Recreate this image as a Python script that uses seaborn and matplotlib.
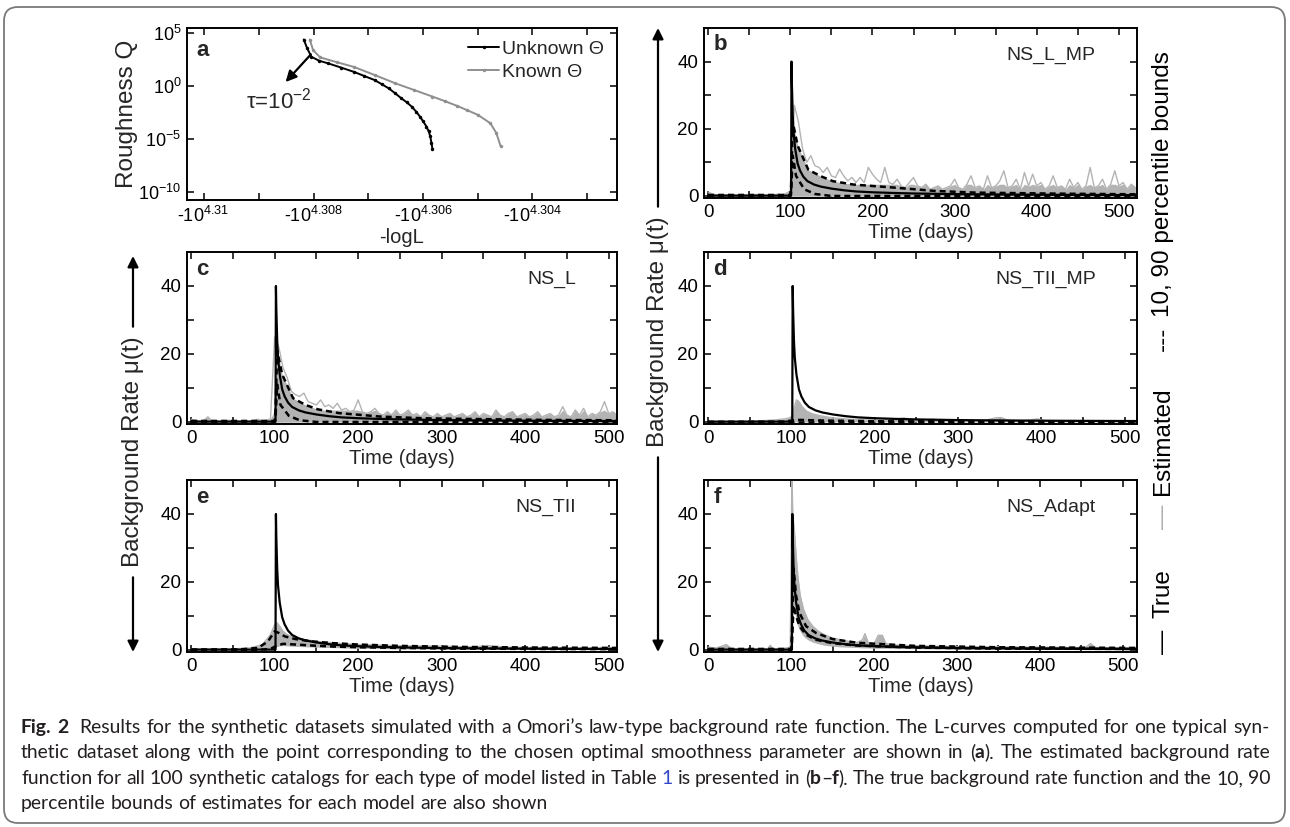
import matplotlib
matplotlib.use("Agg")
import matplotlib.pyplot as plt
from matplotlib.patches import FancyBboxPatch, FancyArrowPatch
from matplotlib.transforms import IdentityTransform
from matplotlib.ticker import FixedLocator, NullLocator
from matplotlib import font_manager
import seaborn as sns

W, H = 1290, 827

# ---------------- panel a: L-curves (x = -10**exp, y = 10**logq)
unknown_exp = [4.30818, 4.30812, 4.30804, 4.30790, 4.30773, 4.30750, 4.30727, 4.30708, 4.30689,
               4.30676, 4.30663, 4.30651, 4.30640, 4.30630, 4.30621, 4.30613, 4.30606, 4.30600,
               4.30594, 4.30590, 4.30587, 4.30585, 4.30583]
unknown_logq = [4.41, 3.60, 2.77, 2.40, 2.14, 1.75, 1.35, 0.96, 0.57, 0.18, -0.22, -0.70, -1.16,
                -1.55, -1.95, -2.42, -2.89, -3.36, -3.84, -4.30, -4.78, -5.38, -5.97]
known_exp = [4.30807, 4.30801, 4.30788, 4.30757, 4.30727, 4.30689, 4.30651, 4.30617, 4.30583,
             4.30560, 4.30538, 4.30519, 4.30500, 4.30477, 4.30466, 4.30458]
known_logq = [4.41, 3.40, 2.71, 2.25, 1.82, 1.05, 0.26, -0.37, -1.00, -1.44, -1.88, -2.30,
              -2.73, -3.52, -4.46, -5.72]

# ---------------- true background rate (same in b-f)
true_t = [0, 50, 100, 101, 101.5, 102, 103, 104, 106, 109, 112, 116, 121, 129, 137, 150, 165,
          180, 200, 225, 250, 300, 350, 400, 450, 500, 525]
true_mu = [0.1, 0.1, 0.1, 0.1, 40, 33, 24, 19, 14, 9.6, 7.5, 5.7, 4.4, 3.4, 2.8, 2.2, 1.7,
           1.35, 1.1, 0.9, 0.75, 0.55, 0.45, 0.37, 0.32, 0.28, 0.26]

# ---------------- panel b: NS_L_MP
b_gray_t = list(range(0, 525, 5))
b_gray = [1.2, 0.6, 0.3, 0.4, 0.2, 0.5, 0.3, 0.2, 0.4, 0.3, 0.2, 0.3, 0.5, 0.3, 0.2, 0.4, 0.3, 0.6, 0.3, 0.8,
          1.5, 27, 22, 14, 10, 12, 9, 8.5, 7, 8.5, 6, 5.5, 8, 6, 4.5, 5.5, 4, 5.5, 4, 8.5,
          6.5, 5, 4, 8.5, 4, 3.5, 5, 3, 2.5, 4, 5.5, 3, 2.5, 3.5, 2, 2.5, 3, 2, 2.5, 3,
          5, 2.5, 2, 3.5, 6, 2.5, 3, 2, 6, 2.5, 3, 4.5, 7.5, 2.5, 3, 5, 2, 7, 3, 6.5,
          3, 4, 2, 3, 6, 2.5, 3, 2, 5, 2.5, 4, 2, 3, 8.5, 2.5, 3, 5, 2, 3.5, 7.5,
          3, 4, 2, 3.5, 2.5]
b_p90_t = [0, 100, 101, 103, 109, 122, 137, 152, 177, 226, 276, 326, 425, 522]
b_p90 = [0.3, 0.3, 3, 22, 15, 7.8, 5.9, 4.4, 3.4, 2.5, 1.5, 1.0, 0.7, 0.5]
b_p10_t = [0, 100, 101, 103, 107, 117, 130, 150, 522]
b_p10 = [0, 0, 1, 12, 6, 2, 0.6, 0, 0]

# ---------------- panel c: NS_L
c_gray_t = list(range(0, 525, 5))
c_gray = [0.8, 0.5, 0.3, 0.4, 1.5, 0.3, 0.2, 0.3, 0.2, 0.5, 0.3, 0.2, 0.3, 0.2, 0.3, 0.4, 0.8, 0.3, 0.5, 0.9,
          25, 22, 16, 13, 9, 8, 7.5, 8.5, 6, 5.5, 5, 6.5, 4.5, 5, 4, 5.5, 3.5, 4, 3, 3.5,
          6.5, 3, 2.5, 3, 4, 2.5, 2, 3, 2, 3.5, 2, 2.5, 3.5, 2, 2.5, 1.5, 3, 2, 1.5, 2.5,
          1.5, 2, 2.5, 1.5, 2, 2.5, 1.5, 2, 3, 1.5, 2.5, 2, 1.5, 3.5, 2, 1.5, 2.5, 3, 1.5, 2,
          2.5, 1.5, 2, 3, 1.5, 2, 2.5, 1.5, 2, 4.5, 2, 1.5, 3.5, 2, 4, 1.5, 2.5, 2, 3, 6,
          2.5, 3, 2, 2.5, 2]
c_p90_t = [0, 100, 101, 103, 109, 122, 137, 152, 177, 226, 276, 326, 425, 510]
c_p90 = [0.3, 0.3, 3, 21, 14, 7, 5, 3.7, 2.6, 1.6, 1.1, 0.9, 0.6, 0.5]
c_p10_t = [0, 100, 101, 103, 107, 117, 130, 150, 510]
c_p10 = [0, 0, 1, 11, 5, 1.8, 0.5, 0, 0]

# ---------------- panel d: NS_TII_MP
d_gray_t = [0, 40, 60, 80, 95, 100, 103, 106, 109, 113, 118, 125, 135, 150, 170, 190, 210, 225,
            235, 245, 260, 270, 280, 300, 330, 345, 352, 360, 380, 395, 405, 430, 470, 515]
d_gray = [0.05, 0.1, 0.3, 0.6, 1.0, 1.5, 4, 6.5, 6, 4.5, 3.2, 2.4, 1.8, 1.2, 0.8, 0.6, 0.5, 0.8,
          1.2, 0.7, 0.5, 0.8, 0.4, 0.3, 0.3, 1.2, 1.3, 0.5, 0.3, 0.9, 0.4, 0.3, 0.3, 0.3]
d_p90_t = [0, 90, 103, 110, 140, 200, 515]
d_p90 = [0.05, 0.1, 0.5, 0.6, 0.4, 0.2, 0.1]
d_p10_t = [0, 515]
d_p10 = [0, 0]

# ---------------- panel e: NS_TII
e_gray_t = [0, 50, 70, 85, 95, 100, 103, 106, 110, 115, 120, 130, 140, 155, 170, 185, 200, 220,
            240, 260, 300, 340, 355, 380, 420, 470, 510]
e_gray_hi = [0.3, 0.3, 0.6, 1.5, 4.5, 7.5, 8, 7, 5.5, 4.5, 4, 3.3, 2.9, 2.4, 2.1, 1.8, 1.6, 1.5,
             1.3, 1.2, 1.1, 0.9, 1.3, 0.8, 0.7, 0.6, 0.6]
e_gray_lo = [0, 0, 0, 0.2, 0.5, 0.8, 1, 1.2, 1.3, 1.2, 1.1, 1.0, 0.9, 0.8, 0.7, 0.6, 0.5, 0.4,
             0.35, 0.3, 0.25, 0.2, 0.2, 0.2, 0.15, 0.15, 0.15]
e_p90_t = [0, 60, 80, 92, 100, 105, 112, 125, 145, 170, 200, 250, 320, 420, 510]
e_p90 = [0.1, 0.2, 0.6, 2.5, 5.5, 5, 4, 3.2, 2.5, 2, 1.6, 1.2, 0.9, 0.7, 0.6]
e_p10_t = [0, 80, 95, 102, 110, 125, 145, 170, 200, 250, 320, 420, 510]
e_p10 = [0, 0.05, 0.3, 1.2, 1.8, 1.6, 1.3, 1.0, 0.8, 0.6, 0.4, 0.3, 0.25]

# ---------------- panel f: NS_Adapt
f_gray_t = [0, 10, 15, 22, 28, 40, 60, 72, 75, 78, 90, 99, 101, 102, 104, 106, 108, 111, 115, 120,
            126, 133, 140, 150, 160, 170, 180, 186, 189, 193, 200, 205, 210, 214, 220, 240, 270,
            300, 350, 400, 455, 461, 467, 490, 517]
f_gray_hi = [0.8, 0.6, 1.0, 1.6, 0.4, 0.3, 0.3, 0.4, 1.4, 0.3, 0.4, 0.8, 52, 40, 35, 28, 22, 16, 12, 9,
             7, 5.5, 4.5, 3.5, 3, 2.5, 2.2, 3, 4.8, 2.2, 1.8, 4.3, 4.3, 2, 1.5, 1.3, 1.1,
             1, 0.9, 0.8, 0.7, 1.9, 0.7, 0.6, 0.6]
f_gray_lo = [0, 0, 0, 0, 0, 0, 0, 0, 0, 0, 0, 0, 0, 10, 12, 9, 7, 5.5, 4, 3,
             2.3, 1.8, 1.4, 1.1, 0.9, 0.8, 0.7, 0.6, 0.6, 0.6, 0.5, 0.5, 0.5, 0.5, 0.4, 0.4, 0.3,
             0.3, 0.3, 0.2, 0.2, 0.2, 0.2, 0.2, 0.2]
f_p90_t = [0, 100, 101, 103, 106, 110, 118, 130, 150, 180, 250, 350, 517]
f_p90 = [0.3, 0.3, 4, 24, 16, 11, 7, 5, 3.2, 2.1, 1.2, 0.8, 0.6]
f_p10_t = [0, 100, 101, 103, 106, 110, 118, 130, 150, 180, 250, 350, 517]
f_p10 = [0, 0, 2, 13, 10, 7, 4.5, 3, 2, 1.3, 0.7, 0.4, 0.3]

# tick labels
rate_xticks = [0, 100, 200, 300, 400, 500]
rate_xminor = [50, 150, 250, 350, 450]
rate_yticks = [0, 20, 40]
rate_yminor = [10, 30]
a_xexp = [4.31, 4.308, 4.306, 4.304]
a_xminor_exp = [4.309, 4.307, 4.305, 4.303]
a_xlabels = ["-$10^{4.31}$", "-$10^{4.308}$", "-$10^{4.306}$", "-$10^{4.304}$"]
a_yexp = [-10, -5, 0, 5]

EST = "#b3b3b3"

sns.set_theme(style="ticks")
plt.rcParams["font.family"] = ["Liberation Sans", "DejaVu Sans"]
plt.rcParams.update({
    "mathtext.fontset": "custom",
    "mathtext.rm": "Liberation Sans",
    "mathtext.it": "Liberation Sans:italic",
    "mathtext.bf": "Liberation Sans:bold",
    "mathtext.default": "regular",
    "axes.linewidth": 1.4,
    "axes.edgecolor": "black",
})

fig = plt.figure(figsize=(W / 100, H / 100), dpi=100)
fig.patch.set_facecolor("white")


def px_axes(l, t, r, b):
    return fig.add_axes([l / W, 1 - b / H, (r - l) / W, (b - t) / H])


def ticks_in(ax, size=13.5):
    ax.tick_params(which="both", direction="in", top=True, right=True, length=5, width=1.1,
                   labelsize=size, colors="black", pad=4)


# ---------------- panel a
ax = px_axes(187, 28, 617, 200)
sns.lineplot(x=[-(10 ** e) for e in unknown_exp], y=[10 ** q for q in unknown_logq], color="black",
             lw=1.4, marker=".", markersize=5, markeredgewidth=0, estimator=None, sort=False,
             label="Unknown Θ", ax=ax)
sns.lineplot(x=[-(10 ** e) for e in known_exp], y=[10 ** q for q in known_logq], color="#8f8f8f",
             lw=1.4, marker=".", markersize=5, markeredgewidth=0, estimator=None, sort=False,
             label="Known Θ", ax=ax)
ax.set_yscale("log")
ax.set_xlim(-(10 ** 4.3103), -(10 ** 4.30244))
ax.set_ylim(10 ** -10.8, 10 ** 5.5)
ax.xaxis.set_major_locator(FixedLocator([-(10 ** e) for e in a_xexp]))
ax.set_xticklabels(a_xlabels)
ax.xaxis.set_minor_locator(FixedLocator([-(10 ** e) for e in a_xminor_exp]))
ax.yaxis.set_major_locator(FixedLocator([10.0 ** e for e in a_yexp]))
ax.yaxis.set_minor_locator(NullLocator())
ax.set_yticklabels(["$10^{%d}$" % e for e in a_yexp])
ticks_in(ax, 13)
ax.set_xlabel("-logL", fontsize=14.5, labelpad=2)
ax.set_ylabel("Roughness Q", fontsize=17.5, labelpad=0)
ax.legend(loc="upper right", frameon=False, fontsize=14, handlelength=1.6, handletextpad=0.15,
          borderaxespad=0.25, labelspacing=0.25)
ax.annotate("", xy=(-(10 ** 4.30851), 10 ** 0.38), xytext=(-(10 ** 4.30805), 10 ** 3.0),
            arrowprops=dict(arrowstyle="-|>", color="black", lw=1.6, mutation_scale=16,
                            shrinkA=0, shrinkB=0))
ax.text(-(10 ** 4.30864), 10 ** -1.4, "τ=$10^{-2}$", ha="center", va="center", fontsize=16)
ax.text(0.022, 0.87, "a", transform=ax.transAxes, fontsize=16, fontweight="bold", va="center")


# ---------------- panels b-f
def rate_panel(box, xmax, letter, name, gt, ghi, p90t, p90, p10t, p10, band=None):
    ax = px_axes(*box)
    # dense core of the 100 estimates, then the spiky outer envelope
    if band is None:
        ax.fill_between(p90t, 0, p90, color=EST, lw=0)
        ax.fill_between(gt, 0, [min(v, 3.5) for v in ghi], color=EST, lw=0)
    else:
        ax.fill_between(gt, band, ghi, color=EST, lw=0)
    sns.lineplot(x=gt, y=ghi, color=EST, lw=1.0, estimator=None, ax=ax)
    sns.lineplot(x=true_t, y=true_mu, color="black", lw=1.6, estimator=None, ax=ax)
    for tt, vv in ((p90t, p90), (p10t, p10)):
        sns.lineplot(x=tt, y=vv, color="black", lw=1.8, linestyle=(0, (2.4, 1.6)),
                     estimator=None, ax=ax)
    ax.set_xlim(-5, xmax)
    ax.set_ylim(-0.6, 50)
    ax.xaxis.set_major_locator(FixedLocator(rate_xticks))
    ax.xaxis.set_minor_locator(FixedLocator(rate_xminor))
    ax.yaxis.set_major_locator(FixedLocator(rate_yticks))
    ax.yaxis.set_minor_locator(FixedLocator(rate_yminor))
    ticks_in(ax)
    ax.set_xlabel("Time (days)", fontsize=14.5, labelpad=2)
    ax.set_ylabel("")
    ax.text(0.022, 0.9, letter, transform=ax.transAxes, fontsize=16, fontweight="bold", va="center")
    ax.text(0.905, 0.84, name, transform=ax.transAxes, fontsize=14, ha="right", va="center")
    return ax


rate_panel((704, 28, 1137, 198), 522, "b", "NS_L_MP", b_gray_t, b_gray,
           b_p90_t, b_p90, b_p10_t, b_p10)
rate_panel((187, 252, 617, 424), 510, "c", "NS_L", c_gray_t, c_gray,
           c_p90_t, c_p90, c_p10_t, c_p10)
rate_panel((704, 252, 1137, 424), 515, "d", "NS_TII_MP", d_gray_t, d_gray,
           d_p90_t, d_p90, d_p10_t, d_p10, band=[0] * len(d_gray))
rate_panel((187, 480, 617, 652), 510, "e", "NS_TII", e_gray_t, e_gray_hi,
           e_p90_t, e_p90, e_p10_t, e_p10, band=e_gray_lo)
rate_panel((704, 480, 1137, 652), 517, "f", "NS_Adapt", f_gray_t, f_gray_hi,
           f_p90_t, f_p90, f_p10_t, f_p10, band=f_gray_lo)

renderer = fig.canvas.get_renderer()


def fy(y_top):
    return 1 - y_top / H


def arrow(x, y_from, y_to):
    fig.add_artist(FancyArrowPatch((x / W, fy(y_from)), (x / W, fy(y_to)), transform=fig.transFigure,
                                   arrowstyle="-|>", mutation_scale=16, lw=1.6, color="black",
                                   shrinkA=0, shrinkB=0))


# shared y labels with arrows
for x, y_top, y_bot, y_mid in ((133, 256, 652, 452), (658, 28, 652, 332)):
    t = fig.text(x / W, fy(y_mid), "Background Rate μ(t)", rotation=90, ha="center", va="center",
                 fontsize=17.5)
    bb = t.get_window_extent(renderer)
    arrow(x, H - bb.y1 - 10, y_top)
    arrow(x, H - bb.y0 + 10, y_bot)

# right-hand key, read bottom to top
key_pieces = [("—", "black", 12), ("True", "black", 40), ("—", "#b0b0b0", 10),
              ("Estimated", "black", 36), ("---", "black", 10), ("10, 90 percentile bounds", "black", 0)]
y = 654
for s, col, gap in key_pieces:
    t = fig.text(1163 / W, 0, s, rotation=90, ha="center", va="bottom", fontsize=17.5, color=col)
    bb = t.get_window_extent(renderer)
    t.set_y(fy(y))
    y -= bb.height + gap

# caption (justified runs)
installed = {f.name for f in font_manager.fontManager.ttflist}
cap_family = next((n for n in ("Lato", "Open Sans", "Liberation Sans") if n in installed), "DejaVu Sans")
INK = "#231f20"
cap_lines = [
    [("Fig. 2", "bold", INK),
     ("  Results for the synthetic datasets simulated with a Omori’s law-type background rate function. "
      "The L-curves computed for one typical syn-", "normal", INK)],
    [("thetic dataset along with the point corresponding to the chosen optimal smoothness parameter "
      "are shown in (", "normal", INK), ("a", "bold", INK),
     ("). The estimated background rate", "normal", INK)],
    [("function for all 100 synthetic catalogs for each type of model listed in Table ", "normal", INK),
     ("1", "normal", "#3348c8"), (" is presented in (", "normal", INK), ("b", "bold", INK),
     ("–", "normal", INK), ("f", "bold", INK),
     ("). The true background rate function and the 10, 90", "normal", INK)],
    [("percentile bounds of estimates for each model are also shown", "normal", INK)],
]


def tokens(runs):
    out, space = [], 0
    for text, weight, col in runs:
        parts = text.split(" ")
        for i, p in enumerate(parts):
            if i > 0:
                space += 1
            if p:
                out.append((p, weight, col, space if out else 0))
                space = 0
    return out


def measure(s, weight, size):
    t = fig.text(0, 0, s, fontsize=size, fontweight=weight, family=cap_family)
    w = t.get_window_extent(renderer).width
    t.remove()
    return w


def natural(toks, size):
    sp = measure("a a", "normal", size) - measure("aa", "normal", size)
    return sum(measure(p, w, size) for p, w, c, s in toks) + sp * sum(s for *_, s in toks), sp


x0, x1 = 21, 1270
tok1 = tokens(cap_lines[0])
w10, _ = natural(tok1, 10)
cap_size = min(14.5, 10 * (x1 - x0 - 12) / w10)
for k, (runs, y_line) in enumerate(zip(cap_lines, (733, 758, 784, 809))):
    toks = tokens(runs)
    nat, sp = natural(toks, cap_size)
    nsp = sum(s for *_, s in toks)
    extra = (x1 - x0 - nat) / nsp if (k < 3 and nsp) else 0
    x = x0
    for p, w, c, s in toks:
        x += s * (sp + extra)
        t = fig.text(x / W, fy(y_line), p, fontsize=cap_size, fontweight=w, color=c,
                     family=cap_family, va="baseline")
        x += t.get_window_extent(renderer).width

# rounded frame
fig.add_artist(FancyBboxPatch((4, 4), 1281, 816, boxstyle="round,pad=0,rounding_size=14",
                              transform=IdentityTransform(), fill=False, ec="#7a7a7a", lw=1.3))

fig.savefig("out.png", dpi=100)
